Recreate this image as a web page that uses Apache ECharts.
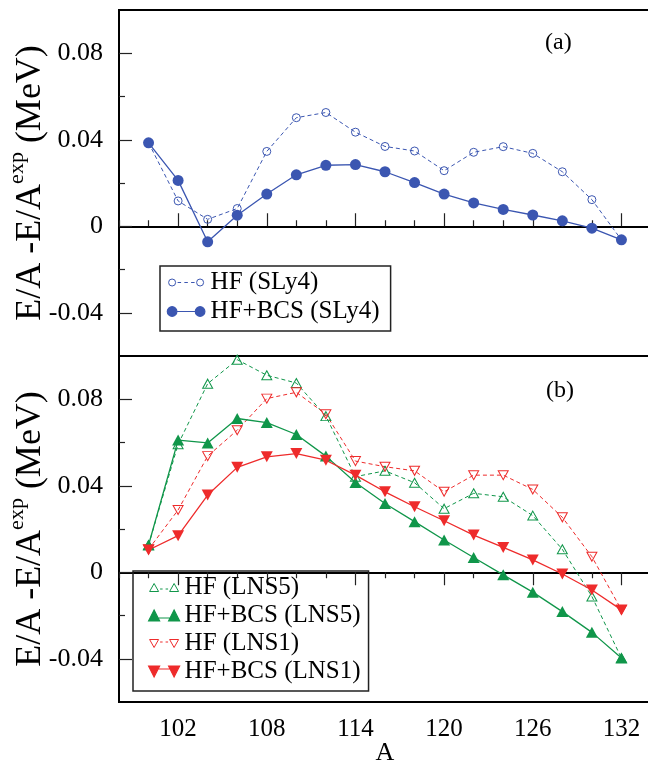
<!DOCTYPE html>
<html>
<head>
<meta charset="utf-8">
<script src="https://cdn.jsdelivr.net/npm/echarts@6/dist/echarts.min.js"></script>
<style>
html,body{margin:0;padding:0;background:#fff;}
#chart{width:648px;height:770px;}
</style>
</head>
<body>
<div id="chart"></div>
<script>
// ---- data ----
const massNumbers = [100,102,104,106,108,110,112,114,116,118,120,122,124,126,128,130,132];
const hfSLy4   = [0.0386,0.0117,0.0032,0.0082,0.0346,0.0502,0.0526,0.0435,0.0369,0.0348,0.0257,0.0342,0.0368,0.0337,0.0252,0.0123,-0.0063];
const bcsSLy4  = [0.0386,0.0212,-0.0072,0.0051,0.0149,0.0238,0.0282,0.0285,0.0252,0.0202,0.0149,0.0108,0.0078,0.0052,0.0025,-0.0009,-0.0063];
const hfLNS5   = [0.0126,0.0592,0.0872,0.0983,0.0911,0.0875,0.0722,0.0442,0.0469,0.0414,0.0294,0.0365,0.0349,0.0262,0.0106,-0.0112,-0.0397];
const bcsLNS5  = [0.0126,0.0611,0.0598,0.0711,0.0692,0.0637,0.0537,0.0415,0.0318,0.0234,0.0149,0.0068,-0.0012,-0.0092,-0.0182,-0.0278,-0.0397];
const hfLNS1   = [0.0106,0.0288,0.0537,0.0657,0.0803,0.0832,0.0731,0.0514,0.0488,0.0469,0.0372,0.0449,0.0449,0.0383,0.0254,0.0072,-0.0174];
const bcsLNS1  = [0.0103,0.0169,0.0357,0.0485,0.0534,0.0549,0.0518,0.0449,0.0372,0.0303,0.0238,0.0172,0.0115,0.0057,-0.0008,-0.0082,-0.0174];
const seriesNames = ['HF (SLy4)','HF+BCS (SLy4)','HF (LNS5)','HF+BCS (LNS5)','HF (LNS1)','HF+BCS (LNS1)'];
const xMajorTicks = [102,108,114,120,126,132];
const xMinorTicks = [98,100,104,106,110,112,116,118,122,124,128,130,134];
const yMajorTicks = [-0.04,0,0.04,0.08];
const yMinorTicks = [-0.02,0.02,0.06];
const panelLabels = ['(a)','(b)'];

// ---- style ----
const BLUE = '#3b56b1', GREEN = '#10964a', RED = '#ee2b2b';
const SERIF = '"Liberation Serif","Times New Roman",serif';
const X_MIN = 98, X_MAX = 134, Y_MIN = -0.06, Y_MAX = 0.10;
const TICK_COLOR = '#222';

function pts(arr){ return massNumbers.map((a,i)=>[a,arr[i]]); }

function xAxes(grid, bottomPanel){
  const base = {gridIndex:grid,type:'value',min:X_MIN,max:X_MAX,position:'bottom',splitLine:{show:false},
    axisLine:{show:true,lineStyle:{color:'#000',width:2}}};
  return [
    Object.assign({},base,{axisTick:{show:true,inside:!bottomPanel,length:6,customValues:xMinorTicks,lineStyle:{color:TICK_COLOR,width:1.2}},
      axisLabel:{show:false}}),
    Object.assign({},base,{axisLine:{show:false},axisTick:{show:true,inside:!bottomPanel,length:13,customValues:xMajorTicks,lineStyle:{color:TICK_COLOR,width:1.2}},
      axisLabel:{show:bottomPanel,customValues:xMajorTicks,margin:15,color:'#000',fontFamily:SERIF,fontSize:25},
      name: bottomPanel ? 'A' : '', nameLocation:'middle', nameGap:38, nameMoveOverlap:false,
      nameTextStyle:{fontFamily:SERIF,fontSize:26,color:'#000'}})
  ];
}
function yAxes(grid){
  const base = {gridIndex:grid,type:'value',min:Y_MIN,max:Y_MAX,position:'left',splitLine:{show:false},
    axisLine:{show:true,lineStyle:{color:'#000',width:2}}};
  return [
    Object.assign({},base,{axisTick:{show:true,inside:true,length:13,customValues:yMajorTicks,lineStyle:{color:TICK_COLOR,width:1.2}},
      axisLabel:{show:true,customValues:yMajorTicks,margin:16,color:'#000',fontFamily:SERIF,fontSize:26,
        formatter:v=> (Math.abs(v)<1e-9 ? '0' : Number(v).toFixed(2))},
      name:'{m|E/A -E/A}{sup|exp}{m| (MeV)}', nameLocation:'middle', nameRotate:90, nameGap:70, nameMoveOverlap:false,
      nameTextStyle:{color:'#000',fontFamily:SERIF,fontSize:36,
        rich:{m:{fontFamily:SERIF,fontSize:36,color:'#000',lineHeight:43,verticalAlign:'bottom'},
              sup:{fontFamily:SERIF,fontSize:22,color:'#000',lineHeight:22,verticalAlign:'top'}}}}),
    Object.assign({},base,{axisLine:{show:false},axisTick:{show:true,inside:true,length:6,customValues:yMinorTicks,lineStyle:{color:TICK_COLOR,width:1.2}},
      axisLabel:{show:false}})
  ];
}

function openSeries(name,arr,color,symbol,size,rotate,xi,yi){
  return {name,type:'line',xAxisIndex:xi,yAxisIndex:yi,data:pts(arr),symbol,symbolSize:size,symbolRotate:rotate||0,
    lineStyle:{color,width:1,type:[4,3]},itemStyle:{color:'rgba(255,255,255,0)',borderColor:color,borderWidth:1},
    emphasis:{disabled:true},animation:false,z:2};
}
function fillSeries(name,arr,color,symbol,size,rotate,xi,yi){
  return {name,type:'line',xAxisIndex:xi,yAxisIndex:yi,data:pts(arr),symbol,symbolSize:size,symbolRotate:rotate||0,
    lineStyle:{color,width:1.3,type:'solid'},itemStyle:{color,borderWidth:0},
    emphasis:{disabled:true},animation:false,z:3};
}

// legend icons (two markers joined by a line, like the original)
const B1 = 'M0 0M39 11';
const iconOpenCircle = 'path://'+B1+'M2 5.5A3.5 3.5 0 1 1 9 5.5A3.5 3.5 0 1 1 2 5.5ZM30 5.5A3.5 3.5 0 1 1 37 5.5A3.5 3.5 0 1 1 30 5.5ZM11 5.5L14.5 5.5M17.75 5.5L21.25 5.5M24.5 5.5L28 5.5';
const iconFillCircle = 'path://'+B1+'M0.7 5.5A4.8 4.8 0 1 1 10.3 5.5A4.8 4.8 0 1 1 0.7 5.5ZM28.7 5.5A4.8 4.8 0 1 1 38.3 5.5A4.8 4.8 0 1 1 28.7 5.5ZM10 5.5L29 5.5';
const B2 = 'M0 0M31 11';
const iconOpenUp = 'path://'+B2+'M5.5 1.5L10 9.5L1 9.5ZM25.5 1.5L30 9.5L21 9.5ZM11.5 7L14 7M17 7L19.5 7';
const iconFillUp = 'path://'+B2+'M5.5 0L11 11L0 11ZM25.5 0L31 11L20 11ZM10 8L21 8';
const iconOpenDown = 'path://'+B2+'M1 1.5L10 1.5L5.5 9.5ZM21 1.5L30 1.5L25.5 9.5ZM11.5 4L14 4M17 4L19.5 4';
const iconFillDown = 'path://'+B2+'M0 0L11 0L5.5 11ZM20 0L31 0L25.5 11ZM10 3L21 3';

function legendOpen(name,icon,color){ return {name,icon,itemStyle:{color:'rgba(255,255,255,0)',borderColor:color,borderWidth:1}}; }
function legendFill(name,icon,color){ return {name,icon,itemStyle:{color:color,borderColor:color,borderWidth:1.2}}; }

const legendText = {fontFamily:SERIF,fontSize:25,color:'#000',lineHeight:25};

const option = {
  backgroundColor:'#fff',
  animation:false,
  grid:[
    {left:119,top:10,width:532,height:346,show:true,borderColor:'#000',borderWidth:2,backgroundColor:'rgba(0,0,0,0)',outerBoundsMode:'none',containLabel:false},
    {left:119,top:356,width:532,height:346,show:true,borderColor:'#000',borderWidth:2,backgroundColor:'rgba(0,0,0,0)',outerBoundsMode:'none',containLabel:false}
  ],
  xAxis:[].concat(xAxes(0,false),xAxes(1,true)),
  yAxis:[].concat(yAxes(0),yAxes(1)),
  legend:[
    {orient:'vertical',left:160,top:266,itemWidth:39,itemHeight:11,itemGap:4,padding:[4,11,7,6],
     borderColor:'#222',borderWidth:1.5,selectedMode:false,textStyle:legendText,
     data:[legendOpen(seriesNames[0],iconOpenCircle,BLUE),legendFill(seriesNames[1],iconFillCircle,BLUE)]},
    {orient:'vertical',left:133,top:571,itemWidth:31,itemHeight:11,itemGap:3,padding:[4,8,7,15],
     borderColor:'#222',borderWidth:1.5,selectedMode:false,textStyle:legendText,
     data:[legendOpen(seriesNames[2],iconOpenUp,GREEN),legendFill(seriesNames[3],iconFillUp,GREEN),
           legendOpen(seriesNames[4],iconOpenDown,RED),legendFill(seriesNames[5],iconFillDown,RED)]}
  ],
  graphic:[
    {type:'text',left:545,top:31,style:{text:panelLabels[0],font:'24px '+SERIF,fill:'#000'}},
    {type:'text',left:546,top:379,style:{text:panelLabels[1],font:'24px '+SERIF,fill:'#000'}}
  ],
  series:[
    openSeries(seriesNames[0],hfSLy4,BLUE,'circle',8,0,0,0),
    fillSeries(seriesNames[1],bcsSLy4,BLUE,'circle',11,0,0,0),
    openSeries(seriesNames[2],hfLNS5,GREEN,'triangle',[10,9],0,2,2),
    fillSeries(seriesNames[3],bcsLNS5,GREEN,'triangle',[12,11],0,2,2),
    openSeries(seriesNames[4],hfLNS1,RED,'triangle',[10,9],180,2,2),
    fillSeries(seriesNames[5],bcsLNS1,RED,'triangle',[12,11],180,2,2)
  ]
};

const chart = echarts.init(document.getElementById('chart'),null,{renderer:'canvas'});
chart.setOption(option);
</script>
</body>
</html>
